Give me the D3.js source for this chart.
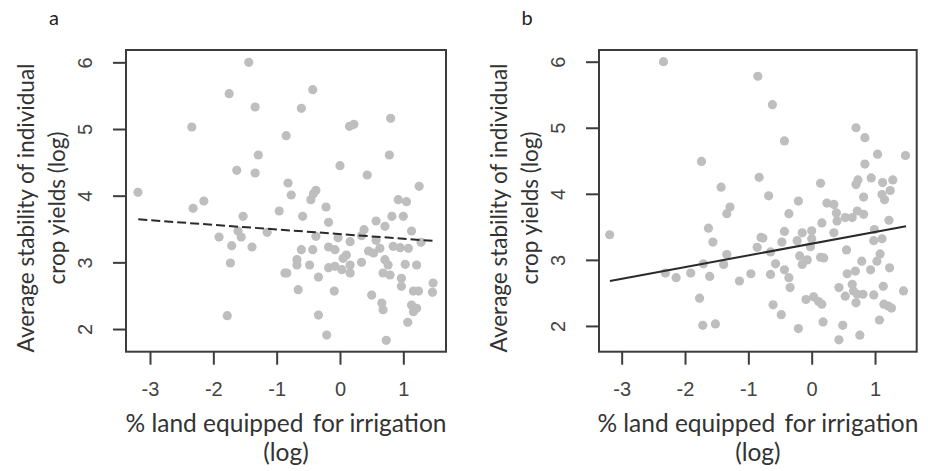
<!DOCTYPE html>
<html>
<head>
<meta charset="utf-8">
<title>Irrigation vs crop yield stability</title>
<style>
  body { margin: 0; background: #fff; }
  svg { display: block; }
</style>
</head>
<body>
<svg id="chart" width="928" height="471"></svg>
<script src="https://d3js.org/d3.v7.min.js"></script>
<script>
// tick labels
var xTicks = [-3, -2, -1, 0, 1];
var yTicks = [2, 3, 4, 5, 6];

// panel a: x = irrigation (log), y = stability (log)
var pointsA = [
  [-3.19,4.05],[-2.34,5.03],[-2.32,3.81],[-2.15,3.92],[-1.75,5.53],[-1.44,6.0],[-1.34,5.33],
  [-1.29,4.61],[-1.63,4.38],[-1.34,4.34],[-1.53,3.69],[-1.91,3.38],[-1.61,3.47],[-1.56,3.38],
  [-1.71,3.25],[-1.39,3.23],[-1.73,2.99],[-1.78,2.2],[-1.15,3.45],[-0.96,3.77],[-0.85,4.9],
  [-0.87,2.84],[-0.43,5.59],[-0.61,5.31],[-0.82,4.19],[-0.77,4.01],[-0.46,3.94],[-0.42,4.03],
  [-0.38,4.08],[-0.22,3.83],[-0.59,3.69],[-0.18,3.60],[-0.38,3.39],[0.0,4.45],[0.15,5.04],
  [0.22,5.07],[0.8,5.16],[0.78,4.61],[0.43,4.31],[1.25,4.14],[0.92,3.94],[1.05,3.91],
  [0.57,3.62],[0.82,3.69],[1.0,3.69],[0.71,3.54],[1.13,3.47],[1.28,3.3],[0.38,3.49],
  [-0.03,3.37],[0.16,3.31],[0.34,3.4],[0.57,3.33],[-0.61,3.19],[-0.43,3.19],[-0.68,3.04],
  [-0.68,2.96],[-0.48,2.96],[-0.18,3.23],[-0.08,3.19],[-0.18,2.92],[-0.08,2.94],[0.05,3.06],
  [0.1,3.11],[0.16,2.96],[0.03,2.89],[0.16,2.84],[0.34,3.0],[0.45,3.17],[0.53,3.14],
  [0.63,3.21],[0.71,3.04],[0.76,2.96],[0.68,2.84],[0.79,2.81],[0.84,3.24],[0.95,3.22],
  [1.08,3.21],[1.03,2.97],[1.21,2.96],[0.97,2.76],[0.97,2.64],[-0.84,2.84],[-0.34,2.78],
  [-0.66,2.59],[-0.09,2.57],[0.5,2.51],[0.66,2.39],[0.68,2.29],[1.16,2.57],[1.24,2.57],
  [1.47,2.69],[1.46,2.55],[1.13,2.36],[1.21,2.31],[1.16,2.26],[1.07,2.10],[-0.34,2.21],
  [-0.21,1.91],[0.73,1.83]
];
var trendA = [[-3.185, 3.645], [1.5, 3.32]];

// panel b
var pointsB = [
  [-3.19,3.38],[-2.34,6.0],[-1.74,4.49],[-1.43,4.10],[-1.29,3.80],[-1.34,3.70],[-1.63,3.48],
  [-1.56,3.27],[-1.34,3.08],[-1.39,2.93],[-1.71,2.94],[-2.31,2.80],[-2.14,2.73],[-1.91,2.80],
  [-1.61,2.75],[-1.77,2.42],[-1.72,2.01],[-1.52,2.03],[-1.14,2.68],[-0.96,2.79],[-0.86,3.19],
  [-0.85,5.78],[-0.83,4.25],[-0.80,3.34],[-0.62,5.35],[-0.43,4.80],[-0.68,3.97],[-0.21,3.89],
  [-0.36,3.70],[0.14,4.16],[0.70,5.0],[0.84,4.85],[1.04,4.60],[1.48,4.58],[0.84,4.45],
  [0.73,4.21],[0.70,4.14],[0.94,4.24],[1.12,4.17],[1.28,4.21],[0.82,3.95],[1.11,3.99],
  [1.15,3.91],[1.24,4.05],[0.24,3.86],[0.35,3.84],[0.39,3.71],[0.40,3.59],[0.53,3.64],
  [0.64,3.64],[0.72,3.74],[0.82,3.69],[0.16,3.56],[0.35,3.41],[1.22,3.60],[0.99,3.46],
  [0.0,3.44],[-0.15,3.41],[-0.23,3.29],[-0.43,3.43],[-0.47,3.27],[-0.77,3.33],[0.0,3.32],
  [-0.02,3.20],[-0.65,3.12],[0.98,3.29],[1.11,3.32],[0.55,3.15],[-0.19,3.06],[-0.07,3.0],
  [-0.15,2.93],[0.14,3.04],[0.19,3.03],[0.79,2.98],[1.08,3.09],[1.03,2.98],[0.93,2.85],
  [1.23,2.88],[-0.57,2.94],[-0.65,2.78],[-0.43,2.85],[-0.36,2.73],[-0.34,2.58],[0.56,2.79],
  [0.69,2.83],[0.43,2.58],[0.64,2.63],[0.66,2.53],[0.72,2.48],[0.81,2.48],[0.53,2.45],
  [1.13,2.60],[0.98,2.47],[1.45,2.53],[0.70,2.35],[-0.09,2.40],[0.03,2.44],[0.11,2.37],
  [0.16,2.33],[1.14,2.33],[1.21,2.30],[1.26,2.27],[-0.61,2.32],[-0.48,2.17],[0.18,2.06],
  [1.07,2.09],[-0.21,1.96],[0.49,2.01],[0.43,1.79],[0.76,1.86]
];
var trendB = [[-3.185, 2.68], [1.49, 3.51]];

var xTitle = ["% land equipped\u2009 for irrigation", "(log)"];
var yTitle = ["Average stability of individual", "crop yields (log)"];

var svg = d3.select("#chart");

function drawPanel(opts) {
    var x = d3.scaleLinear().domain(opts.xDomain).range([opts.left, opts.right]);
    var y = d3.scaleLinear().domain(opts.yDomain).range([opts.bottom, opts.top]);
    var g = svg.append("g");
    var fmt = function (d) { return String(d); };

    // points
    g.selectAll("circle")
        .data(opts.points)
        .enter()
        .append("circle")
        .attr("cx", function (d) { return x(d[0]); })
        .attr("cy", function (d) { return y(d[1]); })
        .attr("r", 4.6)
        .attr("fill", "#bebebe");

    // regression line
    g.append("path")
        .datum(opts.trend)
        .attr("d", d3.line().x(function (d) { return x(d[0]); }).y(function (d) { return y(d[1]); }))
        .attr("fill", "none")
        .attr("stroke", "#2a2a2a")
        .attr("stroke-width", 2)
        .attr("stroke-dasharray", opts.dash);

    // box
    g.append("rect")
        .attr("x", opts.left)
        .attr("y", opts.top)
        .attr("width", opts.right - opts.left)
        .attr("height", opts.bottom - opts.top)
        .attr("fill", "none")
        .attr("stroke", "#3c3c3c")
        .attr("stroke-width", 2);

    // axes
    var xAxis = g.append("g")
        .attr("transform", "translate(0," + opts.bottom + ")")
        .call(d3.axisBottom(x).tickValues(xTicks).tickFormat(fmt).tickSize(13).tickPadding(17));
    var yAxis = g.append("g")
        .attr("transform", "translate(" + opts.left + ",0)")
        .call(d3.axisLeft(y).tickValues(yTicks).tickFormat(fmt).tickSize(13));

    [xAxis, yAxis].forEach(function (a) {
        a.select(".domain").remove();
        a.selectAll("line").attr("stroke", "#3c3c3c").attr("stroke-width", 2);
        a.selectAll("text")
            .attr("fill", "#444")
            .style("font-family", "'Liberation Sans', Arial, sans-serif")
            .style("font-size", "20px");
    });

    yAxis.selectAll("text")
        .attr("x", null)
        .attr("dy", null)
        .attr("text-anchor", "middle")
        .attr("transform", "translate(-34,0) rotate(-90)");

    // titles
    var cx = (opts.left + opts.right) / 2;
    var cy = 208;
    g.selectAll(".xtitle")
        .data(xTitle)
        .enter()
        .append("text")
        .attr("x", cx)
        .attr("y", function (d, i) { return 432 + i * 29; })
        .attr("text-anchor", "middle")
        .style("font-family", "Lato, sans-serif")
        .style("font-size", "24.5px")
        .attr("fill", "#333")
        .text(function (d) { return d; });

    g.selectAll(".ytitle")
        .data(yTitle)
        .enter()
        .append("text")
        .attr("transform", function (d, i) {
            return "translate(" + (opts.left - 92 + i * 31) + "," + cy + ") rotate(-90)";
        })
        .attr("text-anchor", "middle")
        .style("font-family", "Lato, sans-serif")
        .style("font-size", "22.5px")
        .attr("fill", "#333")
        .text(function (d) { return d; });

    g.append("text")
        .attr("x", opts.left - 72)
        .attr("y", 25)
        .attr("text-anchor", "middle")
        .style("font-family", "Lato, sans-serif")
        .style("font-size", "20px")
        .attr("fill", "#222")
        .text(opts.letter);
}

drawPanel({
    letter: "a", points: pointsA, trend: trendA, dash: "9,4",
    left: 126, right: 446, top: 50, bottom: 351.7,
    xDomain: [-3.379, 1.674], yDomain: [1.66, 6.185]
});
drawPanel({
    letter: "b", points: pointsB, trend: trendB, dash: null,
    left: 599, right: 916.7, top: 50, bottom: 351.7,
    xDomain: [-3.358, 1.658], yDomain: [1.61, 6.177]
});
</script>
</body>
</html>
